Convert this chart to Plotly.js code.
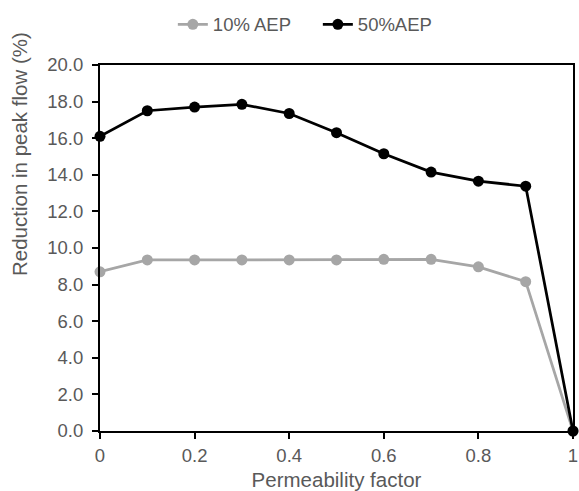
<!DOCTYPE html>
<html><head><meta charset="utf-8">
<script src="https://cdn.plot.ly/plotly-3.0.1.min.js"></script>
<style>body{margin:0;background:#fff}</style>
</head><body><div id="chart" style="width:579px;height:491px"></div>
<script>
const permeability = [0, 0.1, 0.2, 0.3, 0.4, 0.5, 0.6, 0.7, 0.8, 0.9, 1.0];
const aep10 = [8.7, 9.35, 9.35, 9.35, 9.35, 9.35, 9.38, 9.38, 8.97, 8.16, 0];
const aep50 = [16.1, 17.5, 17.7, 17.85, 17.35, 16.3, 15.15, 14.15, 13.65, 13.38, 0];
const xTicks = [0, 0.2, 0.4, 0.6, 0.8, 1];
const xTickText = ['0', '0.2', '0.4', '0.6', '0.8', '1'];
const yTitle = 'Reduction in peak flow (%)';
const xTitle = 'Permeability factor';

const traces = [
  {x: permeability, y: aep10, name: '10% AEP', mode: 'lines+markers', cliponaxis: false,
   line: {color: '#A6A6A6', width: 2.75}, marker: {color: '#A6A6A6', size: 11}},
  {x: permeability, y: aep50, name: '50%AEP', mode: 'lines+markers', cliponaxis: false,
   line: {color: '#000000', width: 2.75}, marker: {color: '#000000', size: 11}}
];
const fam = 'Liberation Sans, Arial, sans-serif';
const grey = '#595959';
const layout = {
  width: 579, height: 491,
  margin: {l: 100, r: 6, t: 61, b: 60},
  paper_bgcolor: '#fff', plot_bgcolor: '#fff',
  font: {family: fam, color: grey, size: 16},
  showlegend: true,
  legend: {orientation: 'h', x: 0.154, xanchor: 'left', y: 1.11, yanchor: 'middle',
           font: {family: fam, size: 18.5, color: grey}, entrywidth: 100},
  xaxis: {range: [0, 1], tickvals: xTicks, ticktext: xTickText, showgrid: false, zeroline: false,
          showline: true, mirror: true, linecolor: '#000', linewidth: 2,
          ticks: 'outside', ticklen: 6, tickcolor: '#000', tickwidth: 2, ticklabelstandoff: 1,
          tickfont: {size: 18.5, color: grey},
          title: {text: xTitle, font: {size: 20.5, color: grey}, standoff: 8}},
  yaxis: {range: [0, 20], dtick: 2, tickformat: '.1f', showgrid: false, zeroline: false,
          showline: true, mirror: true, linecolor: '#000', linewidth: 2,
          ticks: 'outside', ticklen: 6, tickcolor: '#000', tickwidth: 2, ticklabelstandoff: 5,
          tickfont: {size: 18.5, color: grey}},
  annotations: [
    {text: yTitle, xref: 'paper', yref: 'paper', x: -0.169, y: 0.757, xanchor: 'center', yanchor: 'middle',
     textangle: -90, showarrow: false, font: {family: fam, size: 20.5, color: grey}}
  ]
};
Plotly.newPlot('chart', traces, layout, {displayModeBar: false, staticPlot: true});
</script></body></html>
